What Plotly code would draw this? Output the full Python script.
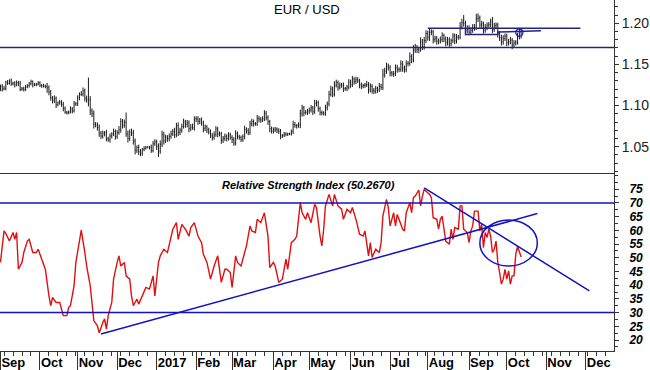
import pandas as pd
import plotly.graph_objects as go

# Trading-day calendar (weekdays) starting 1 Sep 2016
days = pd.bdate_range("2016-09-01", periods=350)

# ---------------- EUR/USD daily closes ----------------
close_2016_09 = [1.1235, 1.1200, 1.1210, 1.1285, 1.1270, 1.1300, 1.1265, 1.1275, 1.1250, 1.1280, 1.1270,
                 1.1195, 1.1210, 1.1195, 1.1225, 1.1245, 1.1265, 1.1290, 1.1250, 1.1255, 1.1260, 1.1275]
close_2016_10 = [1.1245, 1.1240, 1.1235, 1.1230, 1.1215, 1.1165, 1.1095, 1.1055, 1.1090, 1.1010, 1.1035,
                 1.1045, 1.1015, 1.0965, 1.0920, 1.0915, 1.0920, 1.0960, 1.0935, 1.1020, 1.1020]
close_2016_11 = [1.1095, 1.1135, 1.1140, 1.1180, 1.1090, 1.1070, 1.1070, 1.0935, 1.0900, 1.0775, 1.0765,
                 1.0735, 1.0665, 1.0630, 1.0665, 1.0670, 1.0595, 1.0585, 1.0630, 1.0655, 1.0685, 1.0625]
close_2016_12 = [1.0670, 1.0705, 1.0805, 1.0760, 1.0795, 1.0655, 1.0600, 1.0675, 1.0665, 1.0570, 1.0455,
                 1.0490, 1.0440, 1.0420, 1.0465, 1.0480, 1.0495, 1.0495, 1.0495, 1.0450, 1.0535, 1.0560]
close_2017_01 = [1.0500, 1.0445, 1.0530, 1.0645, 1.0570, 1.0615, 1.0595, 1.0625, 1.0655, 1.0685, 1.0645,
                 1.0755, 1.0675, 1.0700, 1.0745, 1.0800, 1.0770, 1.0790, 1.0720, 1.0735, 1.0730, 1.0840]
close_2017_02 = [1.0835, 1.0805, 1.0825, 1.0790, 1.0720, 1.0740, 1.0705, 1.0680, 1.0640, 1.0615, 1.0645,
                 1.0715, 1.0655, 1.0655, 1.0580, 1.0600, 1.0625, 1.0600, 1.0645, 1.0615]
close_2017_03 = [1.0585, 1.0545, 1.0660, 1.0625, 1.0610, 1.0585, 1.0620, 1.0710, 1.0695, 1.0670, 1.0775,
                 1.0805, 1.0780, 1.0780, 1.0845, 1.0835, 1.0825, 1.0840, 1.0905, 1.0855, 1.0805, 1.0720, 1.0690]
close_2017_04 = [1.0705, 1.0715, 1.0700, 1.0685, 1.0630, 1.0635, 1.0655, 1.0650, 1.0655, 1.0655, 1.0685,
                 1.0770, 1.0755, 1.0755, 1.0765, 1.0900, 1.0970, 1.0915, 1.0915, 1.0935]
close_2017_05 = [1.0945, 1.0970, 1.0925, 1.1025, 1.1035, 1.0965, 1.0915, 1.0910, 1.0905, 1.0975, 1.1020,
                 1.1135, 1.1200, 1.1140, 1.1245, 1.1280, 1.1225, 1.1250, 1.1250, 1.1205, 1.1205, 1.1225, 1.1285]
close_2017_06 = [1.1255, 1.1320, 1.1290, 1.1315, 1.1300, 1.1250, 1.1235, 1.1245, 1.1250, 1.1255, 1.1190,
                 1.1235, 1.1185, 1.1175, 1.1205, 1.1190, 1.1235, 1.1220, 1.1375, 1.1415, 1.1480, 1.1465]
close_2017_07 = [1.1400, 1.1385, 1.1390, 1.1460, 1.1440, 1.1440, 1.1505, 1.1455, 1.1435, 1.1510, 1.1515,
                 1.1595, 1.1555, 1.1675, 1.1705, 1.1680, 1.1685, 1.1775, 1.1715, 1.1790, 1.1875]
close_2017_08 = [1.1830, 1.1890, 1.1895, 1.1805, 1.1820, 1.1780, 1.1785, 1.1805, 1.1850, 1.1810, 1.1765,
                 1.1800, 1.1755, 1.1790, 1.1845, 1.1790, 1.1830, 1.1830, 1.1955, 1.2010, 1.2000, 1.1915, 1.1935]
close_2017_09 = [1.1890, 1.1915, 1.1945, 1.1950, 1.2055, 1.2065, 1.1980, 1.1995, 1.1915, 1.1950, 1.1975,
                 1.1985, 1.2025, 1.1925, 1.1970, 1.1980, 1.1875, 1.1825, 1.1775, 1.1815, 1.1845]
close_2017_10 = [1.1765, 1.1775, 1.1795, 1.1735, 1.1760, 1.1765, 1.1840, 1.1890, 1.1855]

close = (close_2016_09 + close_2016_10 + close_2016_11 + close_2016_12 + close_2017_01 + close_2017_02 +
         close_2017_03 + close_2017_04 + close_2017_05 + close_2017_06 + close_2017_07 + close_2017_08 +
         close_2017_09 + close_2017_10)
first_open = 1.1195

# daily extension above / below the open-close body, in pips
up_pips = [20, 25, 30, 15, 25, 20, 30, 15, 20, 25, 20, 30, 15, 20, 25, 15, 20, 25, 15, 20, 15, 20,
           20, 15, 25, 20, 45, 30, 25, 20, 35, 20, 15, 25, 20, 30, 25, 15, 20, 30, 20, 35, 25,
           30, 25, 35, 40, 25, 30, 270, 45, 30, 40, 25, 30, 35, 25, 30, 20, 35, 25, 30, 20, 35, 25,
           30, 45, 40, 30, 35, 120, 40, 35, 45, 40, 30, 25, 35, 30, 20, 25, 15, 10, 15, 30, 35, 30,
           25, 40, 45, 50, 35, 30, 25, 35, 40, 30, 45, 35, 40, 30, 35, 40, 25, 35, 30, 40, 45, 30,
           30, 35, 25, 30, 25, 30, 20, 25, 30, 25, 40, 35, 25, 30, 25, 30, 35, 25, 30, 25,
           25, 30, 40, 25, 20, 25, 30, 45, 25, 30, 40, 35, 25, 20, 40, 30, 25, 30, 40, 30, 25, 20, 25,
           30, 25, 20, 25, 30, 20, 25, 20, 15, 15, 25, 45, 30, 20, 30, 50, 40, 25, 30, 25,
           30, 35, 25, 45, 30, 25, 20, 25, 20, 35, 30, 45, 40, 30, 50, 35, 25, 30, 25, 30, 20, 25, 35,
           30, 40, 25, 35, 30, 25, 30, 20, 25, 45, 30, 35, 25, 30, 35, 25, 40, 30, 70, 45, 40, 30,
           25, 20, 30, 40, 35, 25, 45, 35, 30, 40, 25, 50, 30, 60, 45, 30, 25, 55, 35, 45, 40,
           35, 40, 30, 25, 30, 25, 30, 35, 40, 25, 30, 35, 30, 25, 35, 30, 40, 30, 60, 45, 90, 30, 40,
           40, 35, 45, 40, 60, 55, 30, 35, 25, 40, 35, 30, 30, 50, 35, 30, 25, 30, 35, 40, 30,
           30, 35, 40, 25, 35, 30, 45, 40, 30]
dn_pips = [20, 30, 15, 25, 20, 15, 25, 20, 30, 15, 35, 20, 15, 25, 20, 15, 25, 20, 30, 15, 20, 15,
           20, 25, 15, 20, 60, 40, 35, 30, 25, 40, 20, 25, 30, 35, 20, 25, 20, 15, 30, 20, 25,
           25, 30, 20, 30, 40, 35, 80, 50, 40, 55, 30, 40, 45, 35, 30, 40, 30, 25, 35, 30, 25, 40,
           30, 25, 35, 40, 30, 35, 50, 30, 35, 45, 50, 30, 40, 35, 30, 20, 15, 15, 30, 25, 20, 25,
           40, 70, 30, 35, 45, 25, 35, 30, 30, 25, 40, 30, 45, 35, 30, 25, 40, 35, 45, 30, 25, 35,
           35, 40, 30, 35, 45, 30, 40, 30, 35, 40, 30, 25, 40, 30, 45, 35, 30, 35, 25, 30,
           40, 35, 30, 35, 25, 30, 25, 30, 35, 30, 25, 30, 35, 25, 30, 40, 35, 25, 30, 35, 40, 45, 30,
           30, 25, 35, 30, 40, 25, 20, 25, 20, 15, 20, 30, 25, 35, 25, 40, 35, 45, 25, 30,
           35, 30, 40, 25, 35, 40, 35, 30, 25, 30, 35, 30, 25, 40, 30, 25, 45, 30, 35, 40, 25, 30, 30,
           40, 30, 35, 30, 25, 40, 35, 25, 30, 25, 45, 30, 40, 35, 30, 35, 25, 30, 30, 35, 30, 40,
           45, 30, 35, 30, 40, 35, 30, 45, 35, 30, 35, 30, 40, 30, 35, 40, 45, 30, 40, 35, 30,
           40, 45, 35, 50, 35, 40, 35, 30, 35, 40, 45, 35, 40, 35, 30, 45, 35, 30, 25, 30, 40, 60, 35,
           35, 30, 30, 35, 30, 40, 50, 35, 40, 30, 35, 30, 35, 45, 30, 35, 50, 40, 45, 35, 30,
           45, 35, 30, 50, 35, 30, 25, 35, 40]

# ---------------- RSI (trading-day number, value) ----------------
rsi_day = [0, 2, 3, 5, 7, 8, 9, 10, 12, 13, 15, 16, 18, 20, 21, 23, 25, 27, 28, 29, 31, 33, 34, 35, 37, 38, 39,
           41, 42, 44, 45, 47, 48, 50, 51, 52, 54, 55, 57, 58, 59, 60, 62, 63, 65, 66, 67, 69, 70, 72, 73, 74,
           76, 77, 79, 81, 83, 85, 86, 88, 89, 91, 93, 95, 96, 98, 99, 101, 103, 105, 106, 108, 110, 112, 113,
           115, 117, 119, 121, 123, 125, 126, 128, 129, 131, 132, 134, 136, 137, 139, 140, 142, 143, 145, 147,
           149, 150, 152, 153, 155, 157, 159, 160, 162, 164, 165, 167, 168, 170, 171, 173, 175, 176, 178, 179,
           180, 181, 183, 185, 186, 188, 190, 191, 193, 195, 196, 198, 200, 202, 203, 204, 205, 206, 207, 209,
           211, 212, 213, 215, 216, 217, 219, 220, 221, 223, 224, 225, 226, 228, 229, 230, 231, 233, 234, 235,
           236, 238, 239, 240, 241, 243, 244, 245, 246, 248, 250, 251, 252, 253, 255, 256, 257, 258, 260, 261,
           262, 263, 264, 266, 267, 268, 269, 270, 271, 272, 273, 274, 275, 276, 277, 278, 279, 280, 281, 282,
           283, 284, 285, 286, 287, 288, 289, 290]
rsi_val = [48.3, 59.8, 58.8, 56.1, 59.2, 56.7, 59.2, 45.8, 48.3, 51.9, 56.1, 56.7, 51.9, 51.9, 53.1, 49.5, 45.8,
           36.1, 32.5, 35.5, 33.7, 33.7, 31.3, 28.9, 28.9, 31.9, 32.5,
           39.8, 48.3, 56.7, 60.1, 51.9, 47.0, 39.8, 33.7, 27.1, 25.2, 22.6, 26.4, 27.7, 24.0, 28.9, 33.7, 42.2,
           48.3, 50.7, 47.0, 48.3, 43.4, 42.2, 36.1, 32.5,
           34.9, 33.1, 36.1, 39.2, 38.6, 43.4, 36.1, 48.3, 50.7, 53.1, 51.9, 57.9, 60.4, 62.8, 56.7, 62.2, 60.4,
           57.9, 61.0, 62.8, 57.9, 55.5, 51.3,
           48.3, 42.2, 47.0, 50.7, 41.0, 45.8, 45.8, 44.6, 39.2, 50.7, 48.3, 47.0, 51.9, 54.3, 61.6, 59.8, 59.2,
           64.0, 62.8, 66.4,
           57.9, 46.4, 48.3, 47.0, 41.0, 42.2, 49.5, 45.8, 55.5, 56.7, 57.9, 70.1, 66.4, 64.0, 66.4, 62.8, 69.5,
           68.3, 57.9, 54.3,
           60.4, 68.9, 73.1, 68.9, 73.1, 68.9, 67.7, 64.0, 67.7, 66.4, 68.3, 64.0, 58.6, 57.9, 59.8, 54.3, 50.7,
           55.5, 50.1, 53.1,
           51.9, 55.5, 65.2, 71.3, 68.3, 61.6, 66.4, 61.6, 65.8, 62.2, 60.4, 59.8, 66.4, 70.1, 66.4, 71.9, 72.5,
           74.7, 68.9, 72.5,
           74.9, 73.7, 73.1, 71.9, 64.6, 64.0, 60.4, 64.0, 65.2, 56.1, 54.9, 60.4, 56.7, 61.0, 60.4, 68.9, 68.9,
           60.4, 59.2, 55.5,
           59.8, 61.6, 67.0, 67.0, 59.8, 62.2, 53.7, 59.2, 57.4, 60.4, 57.9, 51.9, 53.1, 56.1, 48.3, 44.6, 40.4,
           42.2, 45.8, 42.2,
           45.2, 40.4, 43.4, 43.4, 51.3, 54.1, 51.9, 50.27]

# ---------------- hand-drawn study lines (trading-day number, value) ----------------
support_price = 1.1707
resist_day, resist_val = [238, 323], [1.1940, 1.1940]
box_day, box_val = [259, 259, 277, 277], [1.1935, 1.1865, 1.1865, 1.1900]
short_day, short_val = [277, 301], [1.1893, 1.1908]
mark_day, mark_price = 289, 1.1888
rsi_up_day, rsi_up_val = [56, 299], [22.2, 66.1]
rsi_dn_day, rsi_dn_val = [236, 328], [75.5, 37.9]
ellipse_day, ellipse_val = [267, 299], [47.0, 63.8]
rsi_levels = [70, 30]

month_labels = ["Sep", "Oct", "Nov", "Dec", "2017", "Feb", "Mar", "Apr", "May", "Jun", "Jul", "Aug",
                "Sep", "Oct", "Nov", "Dec"]
price_ticks = [1.05, 1.10, 1.15, 1.20]
rsi_ticks = [20, 25, 30, 35, 40, 45, 50, 55, 60, 65, 70, 75]

# ---------------- derived bar values ----------------
opens = [first_open] + close[:-1]
highs = [max(o, c) + u / 1e4 for o, c, u in zip(opens, close, up_pips)]
lows = [min(o, c) - d / 1e4 for o, c, d in zip(opens, close, dn_pips)]
x_price = days[:len(close)]

TOP = "#24247e"
BLUE = "#1212c4"
FONT = "Arial, Liberation Sans, sans-serif"

fig = go.Figure()

fig.add_trace(go.Ohlc(
    x=x_price, open=opens, high=highs, low=lows, close=close,
    increasing=dict(line=dict(color="#1a1a1a", width=1)),
    decreasing=dict(line=dict(color="#1a1a1a", width=1)),
    tickwidth=0.3, xaxis="x2", yaxis="y2", hoverinfo="skip", showlegend=False))

for dd, vv in [(resist_day, resist_val), (box_day, box_val), (short_day, short_val)]:
    fig.add_trace(go.Scatter(x=[days[d] for d in dd], y=vv, mode="lines",
                             line=dict(color=TOP, width=1.5), xaxis="x2", yaxis="y2",
                             hoverinfo="skip", showlegend=False))

fig.add_trace(go.Scatter(x=[days[d] for d in rsi_day], y=rsi_val, mode="lines",
                         line=dict(color="#e01010", width=1.4), xaxis="x", yaxis="y",
                         hoverinfo="skip", showlegend=False))
for dd, vv in [(rsi_up_day, rsi_up_val), (rsi_dn_day, rsi_dn_val)]:
    fig.add_trace(go.Scatter(x=[days[d] for d in dd], y=vv, mode="lines",
                             line=dict(color=BLUE, width=1.5), xaxis="x", yaxis="y",
                             hoverinfo="skip", showlegend=False))

shapes = [
    dict(type="line", xref="x2 domain", yref="y2", x0=0, x1=1, y0=support_price, y1=support_price,
         line=dict(color=TOP, width=1.5)),
    dict(type="circle", xref="x2", yref="y2", x0=days[mark_day - 2], x1=days[mark_day + 2],
         y0=mark_price - 0.0045, y1=mark_price + 0.0045, line=dict(color=BLUE, width=1.2)),
    dict(type="circle", xref="x", yref="y", x0=days[ellipse_day[0]], x1=days[ellipse_day[1]],
         y0=ellipse_val[0], y1=ellipse_val[1], line=dict(color=BLUE, width=1.5)),
]
for lv in rsi_levels:
    shapes.append(dict(type="line", xref="x domain", yref="y", x0=0, x1=1, y0=lv, y1=lv,
                       line=dict(color=BLUE, width=1.5)))

month_ticks = list(pd.date_range("2016-09-01", "2017-12-01", freq="BMS"))
x_range = ["2016-08-31 18:00", "2017-12-22 17:00"]
breaks = [dict(bounds=["sat", "mon"])]
AX = "#333333"
split = 0.5071

fig.update_layout(
    width=650, height=370,
    margin=dict(l=0, r=36, t=0, b=19),
    paper_bgcolor="white", plot_bgcolor="white",
    shapes=shapes,
    xaxis=dict(domain=[0, 1], anchor="y", range=x_range, rangebreaks=breaks,
               rangeslider=dict(visible=False),
               tickmode="array", tickvals=month_ticks, ticktext=month_labels,
               ticks="outside", ticklen=19, tickwidth=1, tickcolor=AX,
               ticklabelposition="outside right", ticklabelstandoff=-1,
               tickfont=dict(family=FONT, size=13, color="#000000", weight="bold"),
               minor=dict(ticks="outside", ticklen=4, tickcolor=AX, dtick=7 * 86400000,
                          tick0="2016-09-05", showgrid=False),
               showline=True, linecolor=AX, linewidth=1, showgrid=False, zeroline=False),
    xaxis2=dict(domain=[0, 1], anchor="y2", matches="x", range=x_range, rangebreaks=breaks,
                rangeslider=dict(visible=False), showticklabels=False, ticks="",
                showline=True, linecolor=AX, linewidth=1, showgrid=False, zeroline=False),
    yaxis=dict(domain=[0, split], anchor="x", side="right", range=[16.0, 80.9],
               tickmode="array", tickvals=rsi_ticks, ticks="outside", ticklen=4, tickcolor=AX,
               ticklabelstandoff=8,
               tickfont=dict(family=FONT, size=12, color="#000000", weight="bold", style="italic"),
               minor=dict(ticks="outside", ticklen=3, tickcolor=AX, dtick=2.5, showgrid=False),
               showline=True, linecolor=AX, linewidth=1, showgrid=False, zeroline=False),
    yaxis2=dict(domain=[split, 1], anchor="x2", side="right", range=[1.0180, 1.2283],
                tickmode="array", tickvals=price_ticks, tickformat=".2f",
                ticks="outside", ticklen=4, tickcolor=AX,
                tickfont=dict(family=FONT, size=14, color="#222222"),
                minor=dict(ticks="outside", ticklen=3, tickcolor=AX, dtick=0.01, showgrid=False),
                showline=True, linecolor=AX, linewidth=1, showgrid=False, zeroline=False),
    annotations=[
        dict(text="EUR / USD", xref="paper", yref="paper", x=0.5, y=1 - 10 / 351,
             xanchor="center", yanchor="middle",
             showarrow=False, font=dict(family=FONT, size=13, color="#000000")),
        dict(text="Relative Strength Index (50.2670)", xref="paper", yref="paper",
             x=308 / 614, y=(351 - 185) / 351, xanchor="center", yanchor="middle", showarrow=False,
             font=dict(family=FONT, size=11, color="#000000", weight="bold", style="italic")),
    ],
)

fig.write_html("out.html", config={"displayModeBar": False, "staticPlot": True},
               post_script="document.body.style.margin='0';document.body.style.overflow='hidden';")
